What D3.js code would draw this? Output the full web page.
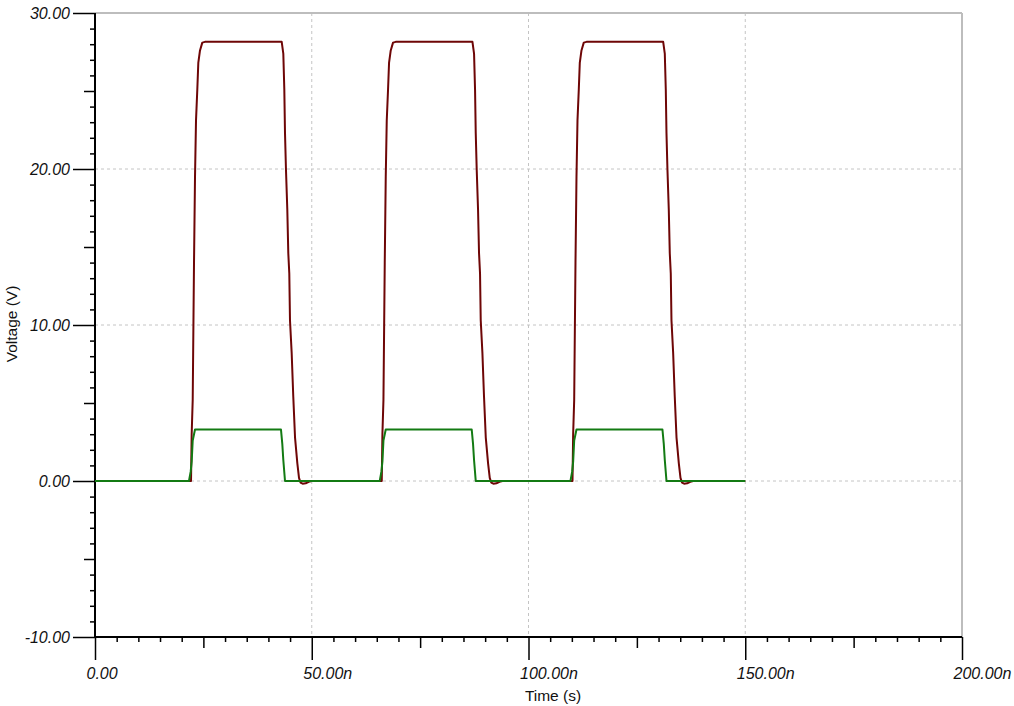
<!DOCTYPE html>
<html>
<head>
<meta charset="utf-8">
<script src="https://cdn.jsdelivr.net/npm/d3@7"></script>
<style>
  html, body { margin: 0; padding: 0; background: #fff; }
  svg { display: block; font-family: "Liberation Sans", Arial, sans-serif; }
</style>
</head>
<body>
<svg id="chart" width="1014" height="706"></svg>
<script>
// ---- Data (time in ns, voltage in V) ----
const xTickValues = [0, 50, 100, 150, 200];
const xTickLabels = ["0.00", "50.00n", "100.00n", "150.00n", "200.00n"];
const yTickValues = [-10, 0, 10, 20, 30];
const yTickLabels = ["-10.00", "0.00", "10.00", "20.00", "30.00"];
const xAxisTitle = "Time (s)";
const yAxisTitle = "Voltage (V)";

// Output trace (dark red)
const redWave = [
  [0, 0], [22.15, 0], [22.3, 3], [22.54, 5.2], [22.84, 14], [23.07, 19.5], [23.3, 23.1], [23.6, 25.1], [23.83, 26.8], [24.22, 27.6], [24.75, 28.1], [25.37, 28.15],
  [43.07, 28.15], [43.44, 27.4], [43.67, 25.1], [43.83, 22.3], [44.06, 19.9], [44.36, 17.4], [44.59, 14.6], [44.82, 13.3], [44.98, 10.3], [45.37, 8.2], [45.74, 5.4], [46.14, 2.8], [46.67, 1.15], [47.06, 0.2], [47.4, -0.1], [47.9, -0.17], [48.6, -0.15], [49.3, -0.05], [50.0, 0],
  [66.15, 0], [66.3, 3], [66.54, 5.2], [66.84, 14], [67.07, 19.5], [67.3, 23.1], [67.6, 25.1], [67.83, 26.8], [68.22, 27.6], [68.75, 28.1], [69.37, 28.15],
  [87.07, 28.15], [87.44, 27.4], [87.67, 25.1], [87.83, 22.3], [88.06, 19.9], [88.36, 17.4], [88.59, 14.6], [88.82, 13.3], [88.98, 10.3], [89.37, 8.2], [89.74, 5.4], [90.14, 2.8], [90.67, 1.15], [91.06, 0.2], [91.4, -0.1], [91.9, -0.17], [92.6, -0.15], [93.3, -0.05], [94.0, 0],
  [110.15, 0], [110.3, 3], [110.54, 5.2], [110.84, 14], [111.07, 19.5], [111.3, 23.1], [111.6, 25.1], [111.83, 26.8], [112.22, 27.6], [112.75, 28.1], [113.37, 28.15],
  [131.07, 28.15], [131.44, 27.4], [131.67, 25.1], [131.83, 22.3], [132.06, 19.9], [132.36, 17.4], [132.59, 14.6], [132.82, 13.3], [132.98, 10.3], [133.37, 8.2], [133.74, 5.4], [134.14, 2.8], [134.67, 1.15], [135.06, 0.2], [135.4, -0.1], [135.9, -0.17], [136.6, -0.15], [137.3, -0.05], [138.0, 0],
  [150, 0]
];

// Input trace (green)
const greenWave = [
  [0, 0], [21.68, 0], [22.07, 0.6], [22.3, 1.24], [22.54, 2.6], [23.07, 3.3], [42.9, 3.3], [43.2, 2.4], [43.44, 1.35], [43.83, 0],
  [65.68, 0], [66.07, 0.6], [66.3, 1.24], [66.54, 2.6], [67.07, 3.3], [86.9, 3.3], [87.2, 2.4], [87.44, 1.35], [87.83, 0],
  [109.68, 0], [110.07, 0.6], [110.3, 1.24], [110.54, 2.6], [111.07, 3.3], [130.9, 3.3], [131.2, 2.4], [131.44, 1.35], [131.83, 0],
  [150, 0]
];

// ---- Layout ----
const plotLeft = 95, plotRight = 962, plotTop = 13, plotBottom = 637;
const svg = d3.select("#chart");

const x = d3.scaleLinear().domain([0, 200]).range([plotLeft, plotRight]);
const y = d3.scaleLinear().domain([-10, 30]).range([plotBottom, plotTop]);

// Grid lines (dashed)
const grid = svg.append("g");
grid.selectAll("line.gx").data([50, 100, 150]).enter().append("line")
  .attr("x1", d => x(d)).attr("x2", d => x(d))
  .attr("y1", plotTop).attr("y2", plotBottom)
  .attr("stroke", "#c4c4c4").attr("stroke-width", 1).attr("stroke-dasharray", "3,3");
grid.selectAll("line.gy").data([0, 10, 20]).enter().append("line")
  .attr("x1", plotLeft).attr("x2", plotRight)
  .attr("y1", d => y(d)).attr("y2", d => y(d))
  .attr("stroke", "#c4c4c4").attr("stroke-width", 1).attr("stroke-dasharray", "3,3");

// Top & right border
svg.append("line").attr("x1", plotLeft).attr("x2", plotRight).attr("y1", y(30)).attr("y2", y(30))
  .attr("stroke", "#bdbdbd").attr("stroke-width", 2);
svg.append("line").attr("x1", x(200)).attr("x2", x(200)).attr("y1", plotTop).attr("y2", plotBottom)
  .attr("stroke", "#bdbdbd").attr("stroke-width", 2);

// ---- Axes ----
function styleAxis(g) {
  g.select(".domain").remove();
  g.selectAll("line").attr("stroke", "#000").attr("stroke-width", 1.5);
  g.selectAll("text").remove();
}

// Y axis: minor (1 V), medium (5 V), major (10 V)
const yMinor = d3.range(-10, 31, 1).filter(v => v % 5 !== 0);
const yMedium = d3.range(-5, 30, 10);
svg.append("g").attr("transform", `translate(${plotLeft},0)`)
  .call(d3.axisLeft(y).tickValues(yMinor).tickSize(5)).call(styleAxis);
svg.append("g").attr("transform", `translate(${plotLeft},0)`)
  .call(d3.axisLeft(y).tickValues(yMedium).tickSize(11)).call(styleAxis);
const yMajorG = svg.append("g").attr("transform", `translate(${plotLeft},0)`)
  .call(d3.axisLeft(y).tickValues(yTickValues).tickSize(22).tickFormat((d, i) => yTickLabels[i]));
yMajorG.select(".domain").remove();
yMajorG.selectAll("line").attr("stroke", "#000").attr("stroke-width", 1.5);
yMajorG.selectAll("text")
  .attr("x", -25).attr("dy", "0.36em")
  .attr("fill", "#111")
  .style("font-size", "16px").style("font-style", "italic")
  .style("font-family", '"Liberation Sans", Arial, sans-serif');

// X axis: minor (5 ns), medium (25 ns), major (50 ns)
const xMinor = d3.range(0, 201, 5).filter(v => v % 25 !== 0);
const xMedium = [25, 75, 125, 175];
svg.append("g").attr("transform", `translate(0,${plotBottom})`)
  .call(d3.axisBottom(x).tickValues(xMinor).tickSize(5)).call(styleAxis);
svg.append("g").attr("transform", `translate(0,${plotBottom})`)
  .call(d3.axisBottom(x).tickValues(xMedium).tickSize(11)).call(styleAxis);
const xMajorG = svg.append("g").attr("transform", `translate(0,${plotBottom})`)
  .call(d3.axisBottom(x).tickValues(xTickValues).tickSize(23).tickFormat((d, i) => xTickLabels[i]));
xMajorG.select(".domain").remove();
xMajorG.selectAll("line").attr("stroke", "#000").attr("stroke-width", 1.5);
xMajorG.selectAll("text")
  .attr("y", 42).attr("dy", 0).attr("x", -9)
  .attr("text-anchor", "start")
  .attr("fill", "#111")
  .style("font-size", "16px").style("font-style", "italic")
  .style("font-family", '"Liberation Sans", Arial, sans-serif');

// Axis lines
svg.append("line").attr("x1", plotLeft).attr("x2", plotLeft).attr("y1", plotTop).attr("y2", plotBottom)
  .attr("stroke", "#000").attr("stroke-width", 2);
svg.append("line").attr("x1", plotLeft).attr("x2", plotRight).attr("y1", plotBottom).attr("y2", plotBottom)
  .attr("stroke", "#000").attr("stroke-width", 2);

// Axis titles
svg.append("text").attr("x", 553).attr("y", 701).attr("text-anchor", "middle")
  .style("font-size", "15.5px").attr("fill", "#111").text(xAxisTitle);
svg.append("text").attr("transform", "translate(17,324) rotate(-90)").attr("text-anchor", "middle")
  .style("font-size", "15.5px").attr("fill", "#111").text(yAxisTitle);

// ---- Traces ----
const line = d3.line().x(d => x(d[0])).y(d => y(d[1]));
svg.append("path").datum(redWave).attr("d", line)
  .attr("fill", "none").attr("stroke", "#6e0606").attr("stroke-width", 2).attr("stroke-linejoin", "round");
svg.append("path").datum(greenWave).attr("d", line)
  .attr("fill", "none").attr("stroke", "#137a13").attr("stroke-width", 2).attr("stroke-linejoin", "round");
</script>
</body>
</html>
